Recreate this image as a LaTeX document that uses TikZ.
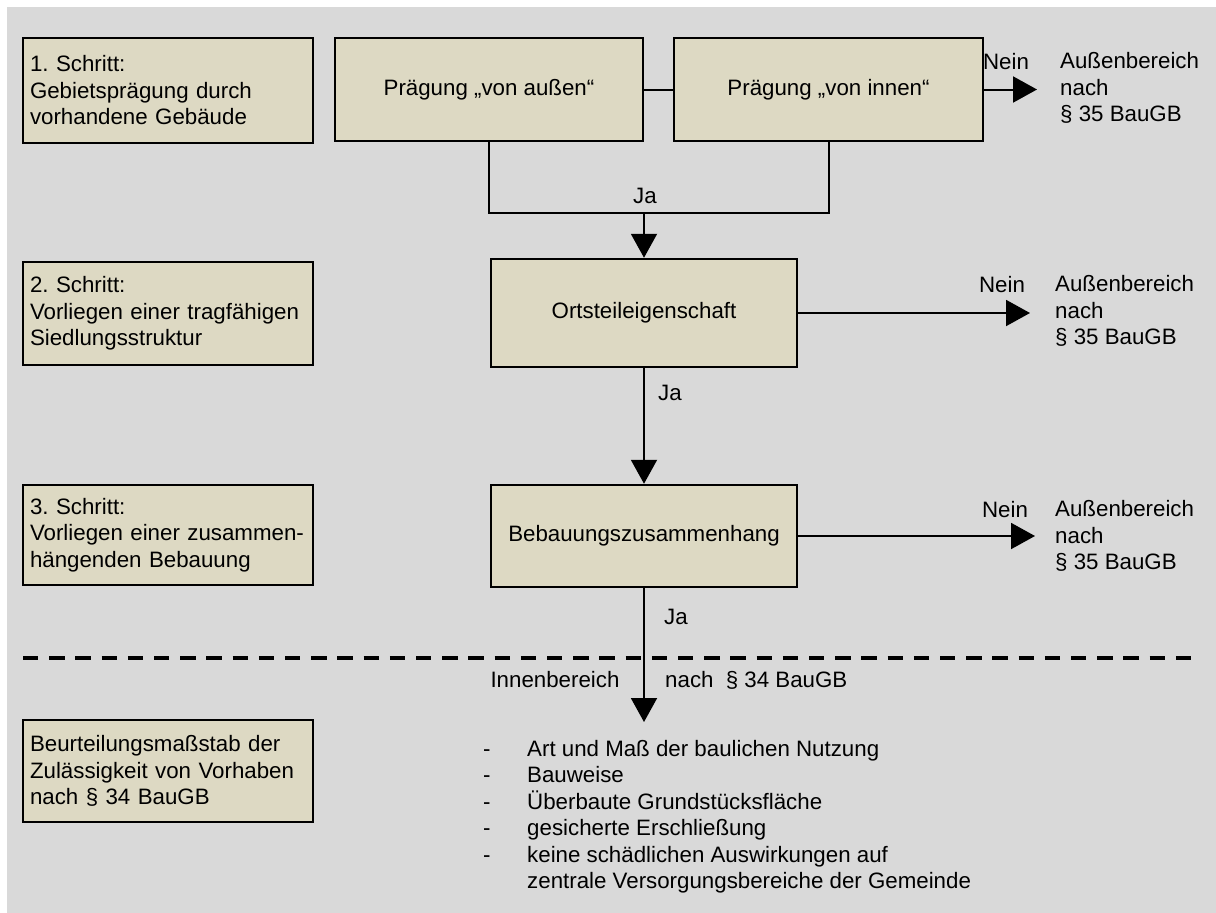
\documentclass[tikz,border=0pt]{standalone}
\usepackage{fontspec}
\setmainfont{Liberation Sans}
\usetikzlibrary{arrows.meta}
\definecolor{bgcol}{HTML}{D9D9D9}
\definecolor{boxfill}{HTML}{DDD9C3}
\frenchspacing
\begin{document}
\begin{tikzpicture}[x=1pt,y=-1pt,
  every node/.style={font=\fontsize{22.3}{26.5}\selectfont, inner sep=0pt},
  stepbox/.style={draw=black, line width=2.5pt, fill=boxfill, text width=276pt, align=left, inner xsep=7pt, minimum width=290pt},
  mainbox/.style={draw=black, line width=2.5pt, fill=boxfill, align=center},
  conn/.style={line width=2pt},
  arr/.style={conn, -{Triangle[length=24pt,width=26pt]}},
  lbl/.style={anchor=center},
  outtext/.style={anchor=west, align=left},
]
\useasboundingbox (0,0) rectangle (1216,913);
\fill[white] (0,0) rectangle (1216,913);
\fill[bgcol] (7,7) rectangle (1216,913);

% left step boxes
\node[stepbox, minimum height=105pt] (s1) at (168,90.5) {1. Schritt:\\Gebietsprägung durch\\vorhandene Gebäude};
\node[stepbox, minimum height=103pt] (s2) at (168,313.5) {2. Schritt:\\Vorliegen einer tragfähigen\\Siedlungsstruktur};
\node[stepbox, minimum height=100pt] (s3) at (168,535) {3. Schritt:\\Vorliegen einer zusammen-\\hängenden Bebauung};
\node[stepbox, minimum height=102pt] (s4) at (168,771) {Beurteilungsmaßstab der\\Zulässigkeit von Vorhaben\\nach § 34 BauGB};

% main boxes
\node[mainbox, minimum width=308pt, minimum height=103pt] (aussen) at (489,89.5) {Prägung „von außen“};
\node[mainbox, minimum width=309pt, minimum height=103pt] (innen) at (828.5,89.5) {Prägung „von innen“};
\node[mainbox, minimum width=306pt, minimum height=108pt] (ort) at (644,313) {Ortsteileigenschaft};
\node[mainbox, minimum width=306pt, minimum height=102pt] (bebau) at (644,536) {Bebauungszusammenhang};

% connectors top
\draw[conn] (aussen.east) -- (innen.west);
\coordinate (jy) at (644,213);
\draw[conn] (aussen.south) -- (aussen.south |- jy) -- (innen.south |- jy) -- (innen.south);
\draw[arr] (jy) -- (ort.north);
\node[lbl] (ja1) at (645,196) {Ja};

% Nein arrows
\coordinate (n1) at (1037,0);
\coordinate (n2) at (1030,0);
\coordinate (n3) at (1035,0);
\draw[arr] (innen.east) -- (innen.east -| n1);
\draw[arr] (ort.east) -- (ort.east -| n2);
\draw[arr] (bebau.east) -- (bebau.east -| n3);
\node[lbl] (nein1) at (1006,62) {Nein};
\node[lbl] (nein2) at (1002,285) {Nein};
\node[lbl] (nein3) at (1005,510) {Nein};
\node[outtext] (a1) at (1060,88) {Außenbereich\\nach\\§ 35 BauGB};
\node[outtext] (a2) at (1055,311) {Außenbereich\\nach\\§ 35 BauGB};
\node[outtext] (a3) at (1055,536) {Außenbereich\\nach\\§ 35 BauGB};

% vertical arrows
\draw[arr] (ort.south) -- (bebau.north);
\node[lbl] (ja2) at (670,393) {Ja};
\coordinate (tip) at (644,722);
\draw[arr] (bebau.south) -- (tip);
\node[lbl] (ja3) at (676,617) {Ja};

% dashed separator
\coordinate (dl) at (23,658);
\coordinate (dr) at (1193,658);
\draw[line width=4pt, dash pattern=on 15.3pt off 10.9pt] (dl) -- (dr);

\node[lbl] (inn) at (555,680) {Innenbereich};
\node[anchor=west] (nach) at (665,680) {nach\hspace{0.55em}§ 34 BauGB};

% list
\node[anchor=north west] (list) at (483,737.5) {%
\begin{tabular}{@{}p{44pt}@{}l@{}}
-&Art und Maß der baulichen Nutzung\\
-&Bauweise\\
-&Überbaute Grundstücksfläche\\
-&gesicherte Erschließung\\
-&keine schädlichen Auswirkungen auf\\
&zentrale Versorgungsbereiche der Gemeinde
\end{tabular}};
\end{tikzpicture}
\end{document}
